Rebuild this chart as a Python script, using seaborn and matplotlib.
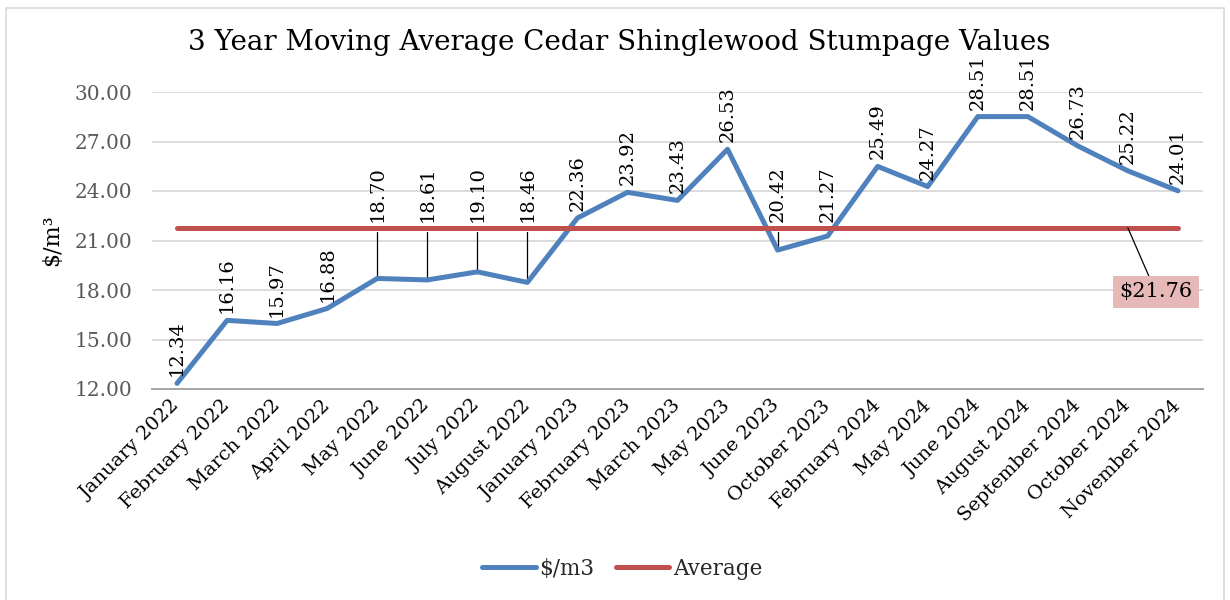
import numpy as np
import pandas as pd
import matplotlib
matplotlib.use("Agg")
import matplotlib.pyplot as plt
import seaborn as sns
from matplotlib.lines import Line2D
from matplotlib.patches import Rectangle

# Chart data
months = ["January 2022", "February 2022", "March 2022", "April 2022", "May 2022",
          "June 2022", "July 2022", "August 2022", "January 2023", "February 2023",
          "March 2023", "May 2023", "June 2023", "October 2023", "February 2024",
          "May 2024", "June 2024", "August 2024", "September 2024", "October 2024",
          "November 2024"]
price = [12.34, 16.16, 15.97, 16.88, 18.70, 18.61, 19.10, 18.46, 22.36, 23.92,
         23.43, 26.53, 20.42, 21.27, 25.49, 24.27, 28.51, 28.51, 26.73, 25.22, 24.01]
y_ticks = [12, 15, 18, 21, 24, 27, 30]

avg_value = round(float(np.mean(price)), 2)

df = pd.DataFrame({"Month": months, "$/m3": price})
df["Average"] = avg_value
long_df = df.melt(id_vars="Month", var_name="Series", value_name="Value")

BLUE = "#4F81BD"
RED = "#C0504D"

sns.set_theme(style="white")
plt.rcParams["font.family"] = ["DejaVu Serif"]

W, H = 1230, 600
fig = plt.figure(figsize=(W / 100, H / 100), dpi=100)
fig.patch.set_facecolor("white")

# outer chart border
fig.patches.append(Rectangle((6 / W, -0.01), (1224 - 6) / W, 1 - 8 / H + 0.01,
                             transform=fig.transFigure, fill=False,
                             edgecolor="#D9D9D9", lw=1.2))

ax = fig.add_axes([152 / W, 1 - 389 / H, (1203 - 152) / W, (389 - 92) / H])

sns.lineplot(data=long_df, x="Month", y="Value", hue="Series",
             palette={"$/m3": BLUE, "Average": RED}, linewidth=3.6,
             sort=False, legend=False, ax=ax)
for ln in ax.lines:
    ln.set_solid_capstyle("round")
    ln.set_zorder(3)

ax.set_xlim(-0.5, len(months) - 0.5)
ax.set_ylim(12, 30)
ax.set_yticks(y_ticks)
ax.set_yticklabels([f"{t:.2f}" for t in y_ticks])
ax.yaxis.grid(True, color="#D9D9D9", lw=1.3)
ax.set_axisbelow(True)
ax.set_xlabel("")
ax.set_ylabel("")

for side in ["left", "right", "top"]:
    ax.spines[side].set_visible(False)
ax.spines["bottom"].set_color("#A6A6A6")
ax.spines["bottom"].set_linewidth(1.4)

ax.tick_params(axis="y", length=0, pad=14, labelsize=14.5, labelcolor="#595959")
ax.tick_params(axis="x", length=0, pad=10, labelsize=14, labelcolor="black")
plt.setp(ax.get_xticklabels(), rotation=45, ha="right", va="center",
         rotation_mode="anchor")

# data labels
for i, v in enumerate(price):
    if avg_value - 4.4 < v < avg_value + 0.3:
        ax.text(i, avg_value + 0.35, f"{v:.2f}", rotation=90, ha="center",
                va="bottom", fontsize=14, color="black")
        ax.plot([i, i], [v, avg_value - 0.25], color="black", lw=0.9, zorder=2)
    else:
        ax.annotate(f"{v:.2f}", (i, v), xytext=(0, 5), textcoords="offset points",
                    rotation=90, ha="center", va="bottom", fontsize=14,
                    color="black")

# average callout
ax.annotate(f"${avg_value:.2f}", (len(months) - 2, avg_value), xytext=(20, -46),
            textcoords="offset points", ha="center", va="center", fontsize=15,
            color="black",
            bbox=dict(boxstyle="square,pad=0.3", fc="#E6B9B8", ec="none"),
            arrowprops=dict(arrowstyle="-", color="black", lw=0.9,
                            shrinkA=0, shrinkB=0), zorder=4)

fig.text(0.503, 1 - 42 / H, "3 Year Moving Average Cedar Shinglewood Stumpage Values",
         ha="center", va="center", fontsize=20, color="black")
fig.text(52 / W, 1 - 240 / H, "$/m³", rotation=90, ha="center", va="center",
         fontsize=16, color="black")

handles = [Line2D([], [], color=BLUE, lw=3.6, solid_capstyle="round"),
           Line2D([], [], color=RED, lw=3.6, solid_capstyle="round")]
fig.legend(handles, ["$/m3", "Average"], loc="center", ncol=2, frameon=False,
           bbox_to_anchor=(622 / W, 1 - 569 / H), fontsize=15.5, handlelength=2.5,
           handletextpad=0.15, columnspacing=1.0)

fig.savefig("out.png", dpi=100, facecolor="white")
